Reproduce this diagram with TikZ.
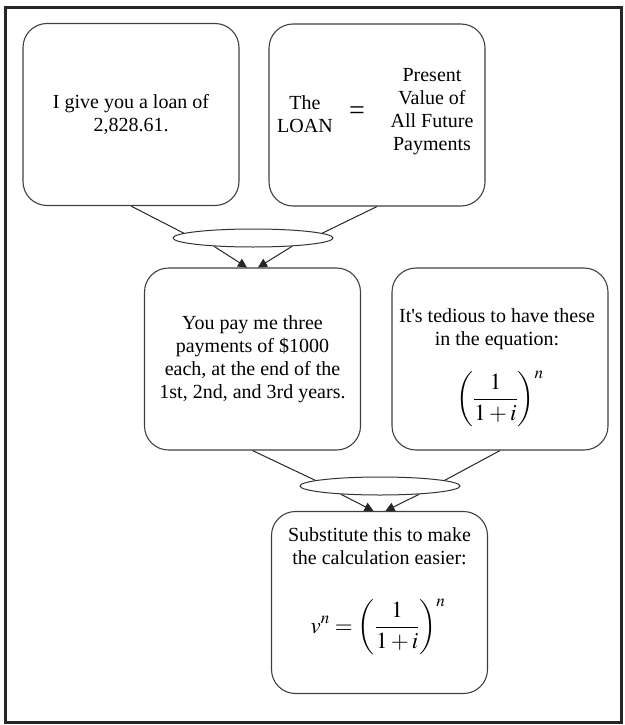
\documentclass[tikz,border=0pt]{standalone}
\usepackage{mathptmx}
\usepackage{fontspec}
\setmainfont{Liberation Serif}
\usetikzlibrary{arrows.meta,shapes.geometric}

\tikzset{
    box/.style={draw=black!75, line width=1.1pt, rounded corners=24pt,
        minimum width=216pt, minimum height=182pt, align=center,
        font=\fontsize{20}{23}\selectfont},
    txt/.style={align=center, inner sep=0pt, font=\fontsize{20}{23}\selectfont},
    formula/.style={inner sep=0pt, font=\fontsize{23}{27}\selectfont},
    merge/.style={ellipse, draw=black!80, line width=1pt, fill=white,
        minimum width=160pt, minimum height=18pt, inner sep=0pt},
    link/.style={black!85, line width=1pt},
    feed/.style={link, -{Triangle[length=9pt,width=9pt]}},
}

\begin{document}
\begin{tikzpicture}[x=1pt, y=-1pt]
    \useasboundingbox (0,0) rectangle (624,725);
    % 外框
    \draw[line width=3pt, black!85] (5.5,8) rectangle (621,722.5);

    % ========= 第一层 =========
    \node[box] (loan) at (131,114.5) {I give you a loan of\\2,828.61.};
    \node[box] (pv) at (377,115) {};
    \node[txt] (pvleft) at (305,114) {The\\LOAN};
    \node[txt, font=\fontsize{28}{28}\selectfont] (pveq) at (357,113) {=};
    \node[txt] (pvright) at (432,112) {Present\\Value of\\All Future\\Payments};

    % 汇合椭圆
    \node[merge] (mergeA) at (253,238) {};
    \draw[link] (loan.south) -- (mergeA.176);
    \draw[link] (pv.south) -- (mergeA.4);

    % ========= 第二层 =========
    \node[box] (pay) at (252.5,359)
        {You pay me three\\payments of \$1000\\each, at the end of the\\1st, 2nd, and 3rd years.};
    \node[box] (tedious) at (500,359) {};
    \node[txt] (tedioustxt) at (497,329) {It\textquotesingle s tedious to have these\\in the equation:};
    \node[formula] (tediousmath) at (500,399)
        {\(\displaystyle\left(\frac{1}{1+i}\right)^{n}\)};

    \draw[feed] (mergeA.192) -- ([xshift=-5.5pt]pay.north);
    \draw[feed] (mergeA.348) -- ([xshift=5.5pt]pay.north);

    % 汇合椭圆
    \node[merge] (mergeB) at (380,486) {};
    \draw[link] (pay.south) -- (mergeB.175);
    \draw[link] (tedious.south) -- (mergeB.5);

    % ========= 第三层 =========
    \node[box] (subst) at (379.5,602.5) {};
    \node[txt] (substtxt) at (379.5,546) {Substitute this to make\\the calculation easier:};
    \node[formula] (substmath) at (378,627)
        {\(\displaystyle v^{n}=\left(\frac{1}{1+i}\right)^{n}\)};

    \draw[feed] (mergeB.192) -- ([xshift=-6pt]subst.north);
    \draw[feed] (mergeB.348) -- ([xshift=6pt]subst.north);
\end{tikzpicture}
\end{document}
